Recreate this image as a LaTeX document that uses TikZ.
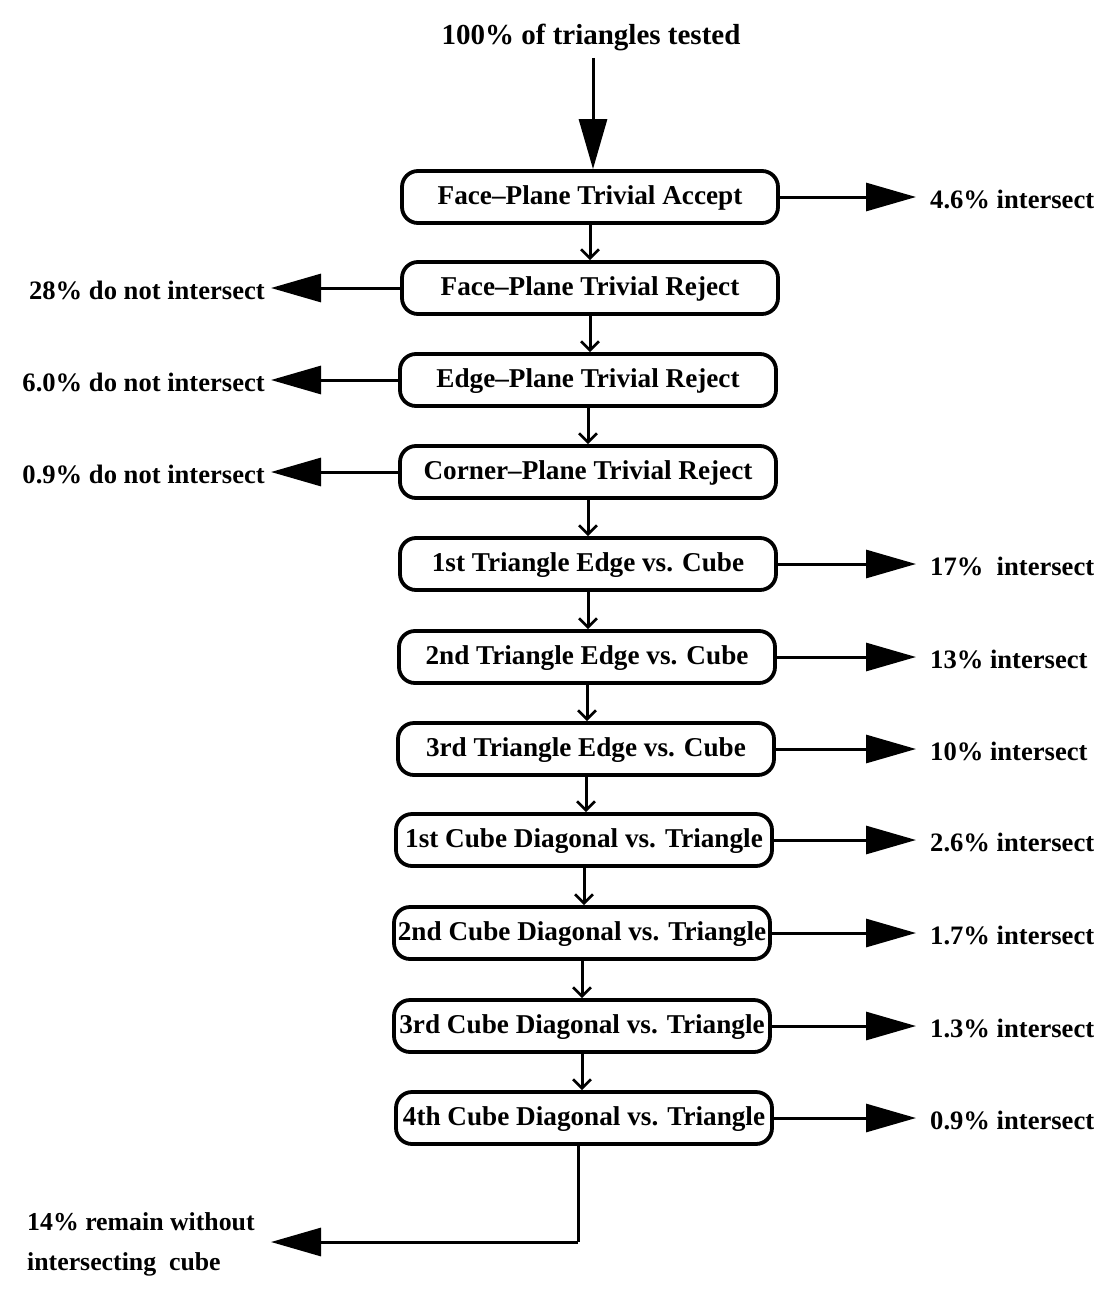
\documentclass[tikz,border=0pt]{standalone}
\usepackage{fontspec}
\setmainfont{Liberation Serif}
\usetikzlibrary{arrows.meta}
\begin{document}
\begin{tikzpicture}[x=1pt,y=-1pt,
  txt/.style={font=\bfseries\fontsize{27.2}{40}\selectfont, inner sep=0pt},
  lbl/.style={font=\bfseries\fontsize{26.6}{40}\selectfont, inner sep=0pt},
  testbox/.style={txt, draw, line width=3.8pt, rounded corners=16pt, minimum width=376pt, minimum height=52pt, text height=19pt, text depth=4pt},
  bigarrow/.style={line width=3pt, -{Triangle[length=50pt,width=28pt]}},
  smallarrow/.style={line width=3pt, -{Straight Barb[length=9pt,width=18pt,line width=2.6pt]}}]
\useasboundingbox (0,0) rectangle (1114,1295);
\fill[white] (0,0) rectangle (1114,1295);
\node[txt, font=\bfseries\fontsize{29}{36}\selectfont] (top) at (591,37) {100\% of\ triangles\ tested};
\node[testbox] (b1) at (590,197) {Face--Plane Trivial Accept};
\node[testbox] (b2) at (590,288) {Face--Plane Trivial Reject};
\node[testbox] (b3) at (588,380) {Edge--Plane Trivial Reject};
\node[testbox] (b4) at (588,472) {Corner--Plane Trivial Reject};
\node[testbox] (b5) at (588,564) {1st Triangle Edge vs. Cube};
\node[testbox] (b6) at (587,657) {2nd Triangle Edge vs. Cube};
\node[testbox] (b7) at (586,749) {3rd Triangle Edge vs. Cube};
\node[testbox] (b8) at (584,840) {1st Cube Diagonal vs. Triangle};
\node[testbox] (b9) at (582,933) {2nd Cube Diagonal vs. Triangle};
\node[testbox] (b10) at (582,1026) {3rd Cube Diagonal vs. Triangle};
\node[testbox] (b11) at (584,1118) {4th Cube Diagonal vs. Triangle};
% right labels
\node[lbl, anchor=west] (r1) at (930,199) {4.6\% intersect};
\node[lbl, anchor=west] (r5) at (930,566) {17\%\ \ intersect};
\node[lbl, anchor=west] (r6) at (930,659) {13\% intersect};
\node[lbl, anchor=west] (r7) at (930,751) {10\% intersect};
\node[lbl, anchor=west] (r8) at (930,842) {2.6\% intersect};
\node[lbl, anchor=west] (r9) at (930,935) {1.7\% intersect};
\node[lbl, anchor=west] (r10) at (930,1028) {1.3\% intersect};
\node[lbl, anchor=west] (r11) at (930,1120) {0.9\% intersect};
% left labels
\node[lbl, anchor=east] (l2) at (265,290) {28\% do not intersect};
\node[lbl, anchor=east] (l3) at (265,382) {6.0\% do not intersect};
\node[lbl, anchor=east] (l4) at (265,474) {0.9\% do not intersect};
\node[lbl, font=\bfseries\fontsize{25.8}{40}\selectfont, anchor=west, align=left] (lend) at (27,1244) {14\% remain without\\intersecting\ \ cube};
% coordinates for free ends
\coordinate (topS) at (593,58);
\coordinate (bend) at (578,1242);
% vertical arrows
\draw[bigarrow] (topS) -- (topS |- b1.north);
\foreach \a/\b in {b1/b2,b2/b3,b3/b4,b4/b5,b5/b6,b6/b7,b7/b8,b8/b9,b9/b10,b10/b11}{
  \draw[smallarrow] (\a.south) -- (\a.south |- \b.north);
}
% right arrows
\foreach \i in {1,5,6,7,8,9,10,11}{
  \draw[bigarrow] (b\i.east) -- (916,0 |- b\i.east);
}
% left arrows
\foreach \i in {2,3,4}{
  \draw[bigarrow] (b\i.west) -- (271,0 |- b\i.west);
}
% bottom
\draw[line width=3pt] (b11.south -| bend) -- (bend);
\draw[bigarrow] (bend) -- (271,1242);
\end{tikzpicture}
\end{document}
